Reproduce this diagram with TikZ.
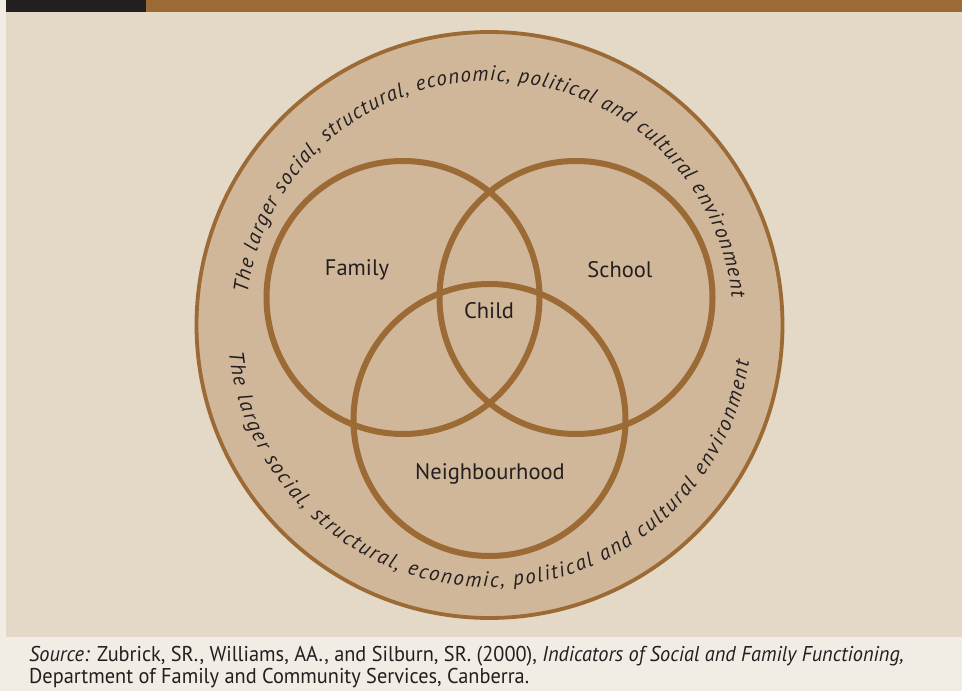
\documentclass[tikz,border=0pt]{standalone}
\usepackage{fontspec}
\setmainfont{PT Sans}
\newfontfamily\capfont[FakeStretch=0.95]{PT Sans}
\usetikzlibrary{decorations.text}
\definecolor{bgbeige}{HTML}{E4D8C7}
\definecolor{tanfill}{HTML}{D1B799}
\definecolor{brownline}{HTML}{9B6A35}
\definecolor{darkbar}{HTML}{231F20}
\definecolor{capband}{HTML}{F1ECE4}
\definecolor{inktext}{HTML}{231F20}
\tikzset{
  vennring/.style={draw=brownline, line width=6pt},
  outerring/.style={draw=brownline, line width=3.8pt, fill=tanfill},
  lbl/.style={text=inktext, font=\fontsize{22.5}{26}\selectfont, inner sep=0pt},
  caption/.style={text=inktext, font=\capfont\fontsize{21.4}{24}\selectfont, anchor=base west, inner sep=0pt}
}
\begin{document}
\begin{tikzpicture}[x=1pt,y=1pt]
\useasboundingbox (0,0) rectangle (962,691);
% backgrounds
\fill[capband] (0,0) rectangle (962,691);
\fill[bgbeige] (6,54) rectangle (962,679);
\fill[darkbar] (6,679) rectangle (146,691);
\fill[brownline] (146,679) rectangle (962,691);
% geometry
\coordinate (centre) at (489.5,366);
\coordinate (famc) at (403,393.5);
\coordinate (schc) at (576,393.5);
\coordinate (neic) at (489.5,271);
\path[outerring] (centre) circle[radius=293];
\draw[vennring] (famc) circle[radius=136.5];
\draw[vennring] (schc) circle[radius=136.5];
\draw[vennring] (neic) circle[radius=136];
% labels
\node[lbl] (family) at (357,421) {Family};
\node[lbl] (school) at (620,421) {School};
\node[lbl] (child) at (489,380) {Child};
\node[lbl] (neigh) at (490,217) {Neighbourhood};
% curved texts
\path[decorate, decoration={text along path, text align=fit to path, text color=inktext,
  text={|\fontsize{21}{24}\selectfont\itshape|The larger social, structural, economic, political and cultural environment}}]
  (centre) ++(172.5:244) arc[start angle=172.5, end angle=6.4, radius=244];
\path[decorate, decoration={text along path, text align=fit to path, text color=inktext,
  text={|\fontsize{21}{24}\selectfont\itshape|The larger social, structural, economic, political and cultural environment}}]
  (centre) ++(186:262) arc[start angle=186, end angle=352, radius=262];
% caption
\node[caption] (cap1) at (29,29) {\textit{Source:} Zubrick, SR., Williams, AA., and Silburn, SR. (2000), \textit{Indicators of Social and Family Functioning,}};
\node[caption] (cap2) at (29,7) {Department of Family and Community Services, Canberra.};
\end{tikzpicture}
\end{document}
